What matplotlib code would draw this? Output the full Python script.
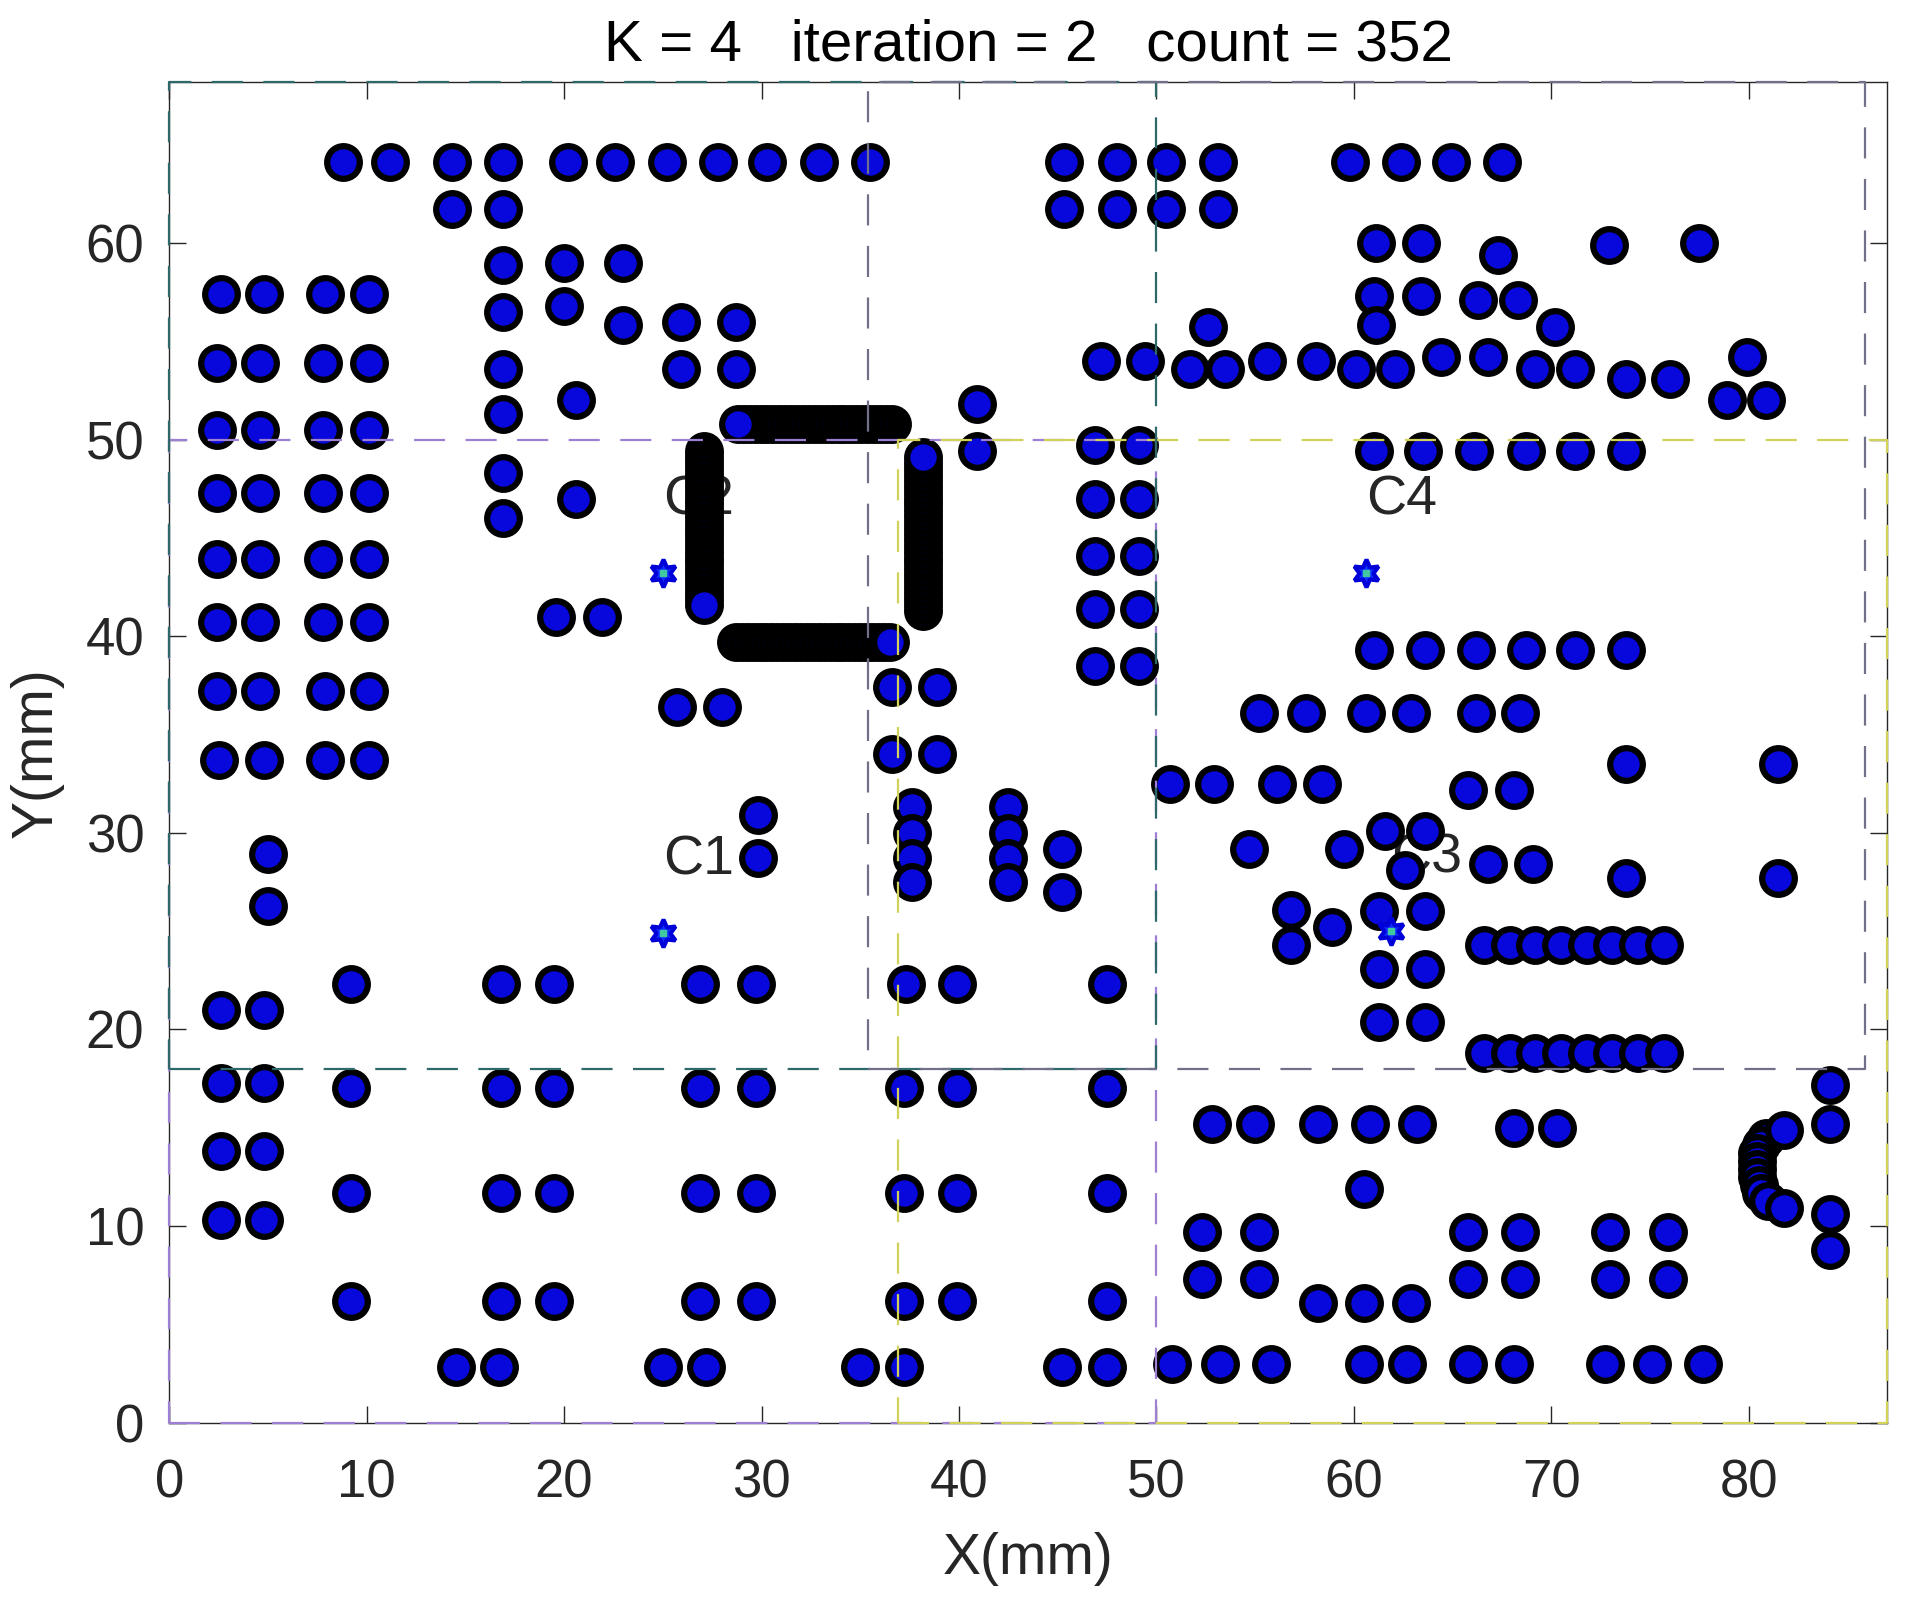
import matplotlib
matplotlib.use('Agg')
import matplotlib.pyplot as plt

plt.rcParams['font.family'] = ['Liberation Sans', 'DejaVu Sans']

# sample points, one entry per row: the y value and the x values on that row
row_y = [64.1, 61.7, 60.0, 59.9, 59.4, 59.0, 58.9, 57.4, 57.3, 57.1, 56.8, 56.5,
         56.0, 55.8, 55.7, 54.2, 54.0, 53.9, 53.6, 53.1, 52.0, 51.8, 51.3, 50.5,
         49.7, 49.4, 48.3, 47.3, 47.0, 46.0, 44.1, 43.9, 41.4, 41.0, 40.7, 39.3,
         38.5, 37.4, 37.2, 36.4, 36.1, 34.0, 33.7, 33.5, 32.5, 32.2, 31.3, 30.9,
         30.1, 30.0, 29.2, 28.9, 28.7, 28.4, 28.1, 27.7, 27.5, 27.0, 26.3, 26.1,
         26.0, 25.2, 24.3, 23.1, 22.3, 21.0, 20.4, 18.8, 17.3, 17.2, 17.0, 15.2,
         15.0, 14.9, 13.8, 11.9, 11.7, 10.9, 10.6, 10.3, 9.7, 8.8, 7.3, 6.2,
         6.1, 3.0, 2.85]
row_x = [
    [8.8, 11.2, 14.3, 16.9, 20.2, 22.6, 25.2, 27.8, 30.3, 32.9, 35.5,
     45.3, 48.0, 50.5, 53.1, 59.8, 62.4, 64.9, 67.5],
    [14.3, 16.9, 45.3, 48.0, 50.5, 53.1],
    [61.1, 63.4, 77.5],
    [72.9],
    [67.3],
    [20.0, 23.0],
    [16.9],
    [2.6, 4.8, 7.9, 10.1],
    [61.0, 63.4],
    [66.3, 68.3],
    [20.0],
    [16.9],
    [25.9, 28.7],
    [23.0, 61.1],
    [52.6, 70.2],
    [64.4, 66.8, 79.9],
    [47.2, 49.4, 55.6, 58.1],
    [2.4, 4.6, 7.8, 10.1],
    [16.9, 25.9, 28.7, 51.7, 53.5, 60.1, 62.1, 69.2, 71.2],
    [73.8, 76.0],
    [20.6, 78.9, 80.9],
    [40.9],
    [16.9],
    [2.4, 4.6, 7.8, 10.1],
    [46.9, 49.1],
    [40.9, 61.0, 63.5, 66.1, 68.7, 71.2, 73.8],
    [16.9],
    [2.4, 4.6, 7.8, 10.1],
    [20.6, 46.9, 49.1],
    [16.9],
    [46.9, 49.1],
    [2.4, 4.6, 7.8, 10.1],
    [46.9, 49.1],
    [19.6, 21.9],
    [2.4, 4.6, 7.8, 10.1],
    [61.0, 63.6, 66.2, 68.7, 71.2, 73.8],
    [46.9, 49.1],
    [36.6, 38.9],
    [2.4, 4.6, 7.9, 10.1],
    [25.7, 28.0],
    [55.2, 57.6, 60.6, 62.9, 66.2, 68.4],
    [36.6, 38.9],
    [2.5, 4.8, 7.9, 10.1],
    [73.8, 81.5],
    [50.7, 52.9, 56.1, 58.4],
    [65.8, 68.1],
    [37.6, 42.5],
    [29.8],
    [61.6, 63.6],
    [37.6, 42.5],
    [45.2, 54.7, 59.5],
    [5.0],
    [29.8, 37.6, 42.5],
    [66.8, 69.1],
    [62.6],
    [73.8, 81.5],
    [37.6, 42.5],
    [45.2],
    [5.0],
    [56.8],
    [61.3, 63.6],
    [58.9],
    [56.8, 66.6, 67.9, 69.2, 70.5, 71.8, 73.1, 74.4, 75.7],
    [61.3, 63.6],
    [9.2, 16.8, 19.5, 26.9, 29.7, 37.3, 39.9, 47.5],
    [2.6, 4.8],
    [61.3, 63.6],
    [66.6, 67.9, 69.2, 70.5, 71.8, 73.1, 74.4, 75.7],
    [2.6, 4.8],
    [84.1],
    [9.2, 16.8, 19.5, 26.9, 29.7, 37.2, 39.9, 47.5],
    [52.8, 55.0, 58.2, 60.8, 63.2, 84.1],
    [68.1, 70.3],
    [81.8],
    [2.6, 4.8],
    [60.5],
    [9.2, 16.8, 19.5, 26.9, 29.7, 37.2, 39.9, 47.5],
    [81.8],
    [84.1],
    [2.6, 4.8],
    [52.3, 55.2, 65.8, 68.4, 73.0, 75.9],
    [84.1],
    [52.3, 55.2, 65.8, 68.4, 73.0, 75.9],
    [9.2, 16.8, 19.5, 26.9, 29.7, 37.2, 39.9, 47.5],
    [58.2, 60.5, 62.9],
    [50.8, 53.2, 55.8, 60.5, 62.7, 65.8, 68.1, 72.7, 75.1, 77.7],
    [14.5, 16.7, 25.0, 27.2, 35.0, 37.2, 45.2, 47.5],
]

# tight chain of points near the lower right corner
chain_x = [80.9, 80.6, 80.4, 80.4, 80.4, 80.4, 80.5, 80.6, 81.0]
chain_y = [14.5, 14.1, 13.7, 13.3, 12.9, 12.5, 12.1, 11.7, 11.3]

# the black square: densely packed points along its four sides
sq_top_y = 50.8
sq_top_x = [36.6, 36.3, 36.0, 35.7, 35.4, 35.1, 34.8, 34.5, 34.2, 33.9, 33.6, 33.3,
            33.0, 32.7, 32.4, 32.1, 31.8, 31.5, 31.2, 30.9, 30.6, 30.3, 30.0, 29.7,
            29.4, 29.1, 28.8]
sq_bot_y = 39.7
sq_bot_x = [28.7, 29.0, 29.3, 29.6, 29.9, 30.2, 30.5, 30.8, 31.1, 31.4, 31.7, 32.0,
            32.3, 32.6, 32.9, 33.2, 33.5, 33.8, 34.1, 34.4, 34.7, 35.0, 35.3, 35.6,
            35.9, 36.2, 36.5]
sq_left_x = 27.1
sq_left_y = [49.4, 49.1, 48.8, 48.5, 48.2, 47.9, 47.6, 47.3, 47.0, 46.7, 46.4, 46.1,
             45.8, 45.5, 45.2, 44.9, 44.6, 44.3, 44.0, 43.7, 43.4, 43.1, 42.8, 42.5,
             42.2, 41.9, 41.6]
sq_right_x = 38.2
sq_right_y = [41.3, 41.6, 41.9, 42.2, 42.5, 42.8, 43.1, 43.4, 43.7, 44.0, 44.3, 44.6,
              44.9, 45.2, 45.5, 45.8, 46.1, 46.4, 46.7, 47.0, 47.3, 47.6, 47.9, 48.2,
              48.5, 48.8, 49.1]

# cluster centres
cent_names = ['C1', 'C2', 'C3', 'C4']
cent_x = [25.0, 25.0, 61.9, 60.6]
cent_y = [24.9, 43.2, 25.0, 43.2]

# cluster boxes (drawn in this order): C1, C3, C2, C4
box_x0 = [0, 36.9, 0, 35.4]
box_x1 = [50, 87.0, 50, 85.9]
box_y0 = [0, 0, 18, 18]
box_y1 = [50, 50, 68.2, 68.2]
box_col = ['#9d80d4', '#d2d25a', '#2f6868', '#707088']

fig = plt.figure(figsize=(19.1, 16.1), dpi=100)
ax = fig.add_axes([0.0886, 0.1163, 0.8993, 0.833])

for name, x, y in zip(cent_names, cent_x, cent_y):
    ax.text(x, y + 3.7, name, fontsize=40, color='#262626', ha='left', va='center', zorder=1)

pt = dict(ls='none', marker='o', ms=23.5, mfc='#0808dc', mec='black', mew=4.5, zorder=2)
px, py = [], []
for y, xs in zip(row_y, row_x):
    for x in xs:
        px.append(x)
        py.append(y)
ax.plot(chain_x, chain_y, **pt)
ax.plot(px, py, **pt)
ax.plot(sq_top_x, [sq_top_y] * len(sq_top_x), **pt)
ax.plot(sq_bot_x, [sq_bot_y] * len(sq_bot_x), **pt)
ax.plot([sq_left_x] * len(sq_left_y), sq_left_y, **pt)
ax.plot([sq_right_x] * len(sq_right_y), sq_right_y, **pt)

for x0, x1, y0, y1, c in zip(box_x0, box_x1, box_y0, box_y1, box_col):
    ax.plot([x0, x1, x1, x0, x0], [y0, y0, y1, y1, y0], color=c, lw=1.6,
            ls=(0, (14.0, 9.2)), clip_on=False, zorder=3)

ax.plot(cent_x, cent_y, ls='none', marker=(6, 1, 0), ms=20, mfc='#1030ff',
        mec='#0000d8', mew=3, zorder=4)
ax.plot(cent_x, cent_y, ls='none', marker='s', ms=4, color='#40c8a0', zorder=5)

ax.set_xlim(0, 87.0)
ax.set_ylim(0, 68.2)
ax.set_xticks(range(0, 81, 10))
ax.set_yticks(range(0, 61, 10))
ax.tick_params(direction='in', top=True, right=True, length=12, width=1.0,
               labelsize=38, colors='#262626')
ax.tick_params(axis='x', pad=26)
ax.tick_params(axis='y', pad=18)
for s in ax.spines.values():
    s.set_color('#262626')
    s.set_linewidth(1.0)

ax.text(0.5, 1.0273, 'K = 4   iteration = 2   count = 352', transform=ax.transAxes,
        ha='center', va='center', fontsize=42, color='black')
ax.set_xlabel('X(mm)', fontsize=41, color='#262626')
ax.xaxis.label.set_va('center')
ax.xaxis.set_label_coords(0.5, -0.1016)
ax.set_ylabel('Y(mm)', fontsize=41, color='#262626')
ax.yaxis.label.set_va('center')
ax.yaxis.set_label_coords(-0.077, 0.5)

fig.savefig('out.png', dpi=100)
